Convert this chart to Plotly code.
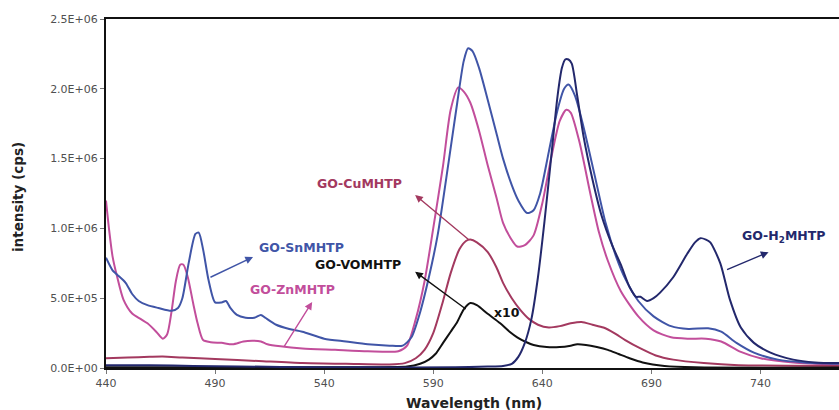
import plotly.graph_objects as go

# Emission spectra of the GO-porphyrin hybrids (intensity in units of 1E+06 cps)
SCALE = 1e6

sn_wl = [440, 443, 445, 449, 452, 455, 459, 464, 470, 473, 475, 478, 481, 482.5, 484.5, 487, 490, 493, 495,
         497, 500, 504, 508, 511, 513, 518, 524, 530, 540, 550, 560, 570, 576, 580, 584, 588, 592, 597, 601,
         604, 606, 608, 611, 615, 619, 622, 626, 629, 633, 636, 639, 643, 647, 650, 652, 655, 659, 664, 669,
         674, 678, 684, 691, 699, 707, 716, 722, 729, 737, 748, 760, 776]
sn_int = [0.79, 0.70, 0.67, 0.61, 0.53, 0.48, 0.45, 0.43, 0.41, 0.43, 0.50, 0.76, 0.96, 0.97, 0.85, 0.63, 0.47,
          0.47, 0.48, 0.43, 0.38, 0.36, 0.36, 0.38, 0.36, 0.31, 0.28, 0.26, 0.21, 0.19, 0.17, 0.16, 0.16, 0.22,
          0.40, 0.65, 0.95, 1.47, 1.90, 2.20, 2.29, 2.27, 2.15, 1.92, 1.68, 1.50, 1.31, 1.20, 1.11, 1.13, 1.25,
          1.55, 1.85, 2.00, 2.03, 1.95, 1.72, 1.38, 1.04, 0.79, 0.64, 0.48, 0.37, 0.30, 0.28, 0.285, 0.26, 0.18,
          0.11, 0.06, 0.04, 0.03]

zn_wl = [440, 441.5, 443, 445, 448, 452, 456, 459, 463, 466, 468, 470, 472, 474, 475.5, 477.5, 480, 482, 484.5,
         488, 493, 498, 503, 507, 511, 514, 520, 530, 545, 560, 574, 578, 582, 586, 590, 594.5, 598, 601.5, 604,
         607, 611, 615, 619, 622, 625.5, 628.5, 632, 636, 640, 644, 648, 651, 653, 657, 662, 666, 670, 676, 684,
         691, 699, 707, 715, 722, 731, 740, 755, 776]
zn_int = [1.20, 0.98, 0.80, 0.66, 0.49, 0.39, 0.35, 0.32, 0.26, 0.21, 0.24, 0.40, 0.62, 0.74, 0.74, 0.65, 0.46,
          0.32, 0.20, 0.185, 0.18, 0.17, 0.19, 0.195, 0.19, 0.17, 0.155, 0.14, 0.13, 0.12, 0.12, 0.16, 0.35,
          0.62, 1.00, 1.45, 1.85, 2.01, 1.98, 1.90, 1.70, 1.45, 1.22, 1.04, 0.93, 0.87, 0.88, 0.95, 1.18, 1.50,
          1.77, 1.85, 1.83, 1.62, 1.25, 0.97, 0.77, 0.55, 0.37, 0.27, 0.22, 0.21, 0.21, 0.19, 0.115, 0.07,
          0.04, 0.025]

cu_wl = [440, 450, 460, 466, 475, 490, 510, 530, 550, 570, 577, 582, 586, 590, 594.5, 598, 602, 605, 607, 610,
         615, 619, 622, 626, 630, 634, 638, 643, 648, 653, 658, 663, 668, 673, 678, 685, 692, 700, 714, 730, 776]
cu_int = [0.07, 0.075, 0.08, 0.082, 0.075, 0.065, 0.05, 0.035, 0.03, 0.025, 0.035, 0.07, 0.13, 0.25, 0.48,
          0.68, 0.85, 0.91, 0.92, 0.90, 0.83, 0.72, 0.61, 0.50, 0.415, 0.35, 0.31, 0.29, 0.30, 0.32, 0.33,
          0.31, 0.29, 0.25, 0.20, 0.14, 0.09, 0.06, 0.035, 0.02, 0.015]

vo_wl = [440, 560, 578, 584, 588, 591, 594.5, 598, 601, 604, 607, 610, 614.8, 620.7, 625, 628.5, 632, 636, 642,
         648, 653, 656, 660, 665, 670, 675, 680, 686, 696, 710, 776]
vo_int = [0.005, 0.005, 0.01, 0.03, 0.06, 0.10, 0.18, 0.26, 0.33, 0.42, 0.465, 0.45, 0.39, 0.32, 0.26, 0.22,
          0.19, 0.165, 0.15, 0.15, 0.16, 0.17, 0.165, 0.15, 0.13, 0.10, 0.07, 0.04, 0.015, 0.005, 0.003]

h2_wl = [440, 460, 480, 520, 560, 600, 615, 622, 626, 629, 632, 635, 638, 641, 644, 647, 649, 650.5, 652,
         653.5, 656, 659, 663, 667, 672, 676, 680, 683, 685, 688, 691, 694, 700, 706.5, 710, 712.5, 715, 717,
         721.6, 726, 731, 737, 744.6, 755, 765, 776]
h2_int = [0.02, 0.02, 0.015, 0.008, 0.005, 0.005, 0.01, 0.015, 0.03, 0.08, 0.18, 0.35, 0.65, 1.05, 1.50, 1.95,
          2.15, 2.21, 2.21, 2.18, 1.95, 1.65, 1.35, 1.10, 0.88, 0.74, 0.58, 0.51, 0.51, 0.48, 0.50, 0.54, 0.65,
          0.82, 0.90, 0.93, 0.92, 0.90, 0.75, 0.49, 0.29, 0.18, 0.11, 0.06, 0.04, 0.035]

y_ticks = [0, 0.5, 1.0, 1.5, 2.0, 2.5]
y_tick_text = ["0.0E+00", "5.0E+05", "1.0E+06", "1.5E+06", "2.0E+06", "2.5E+06"]
x_ticks = [440, 490, 540, 590, 640, 690, 740]

C_SN = "#4055a7"
C_ZN = "#c24e9b"
C_CU = "#a3395f"
C_VO = "#111111"
C_H2 = "#23286c"

series = [
    ("GO-ZnMHTP", zn_wl, zn_int, C_ZN),
    ("GO-SnMHTP", sn_wl, sn_int, C_SN),
    ("GO-CuMHTP", cu_wl, cu_int, C_CU),
    ("GO-VOMHTP", vo_wl, vo_int, C_VO),
    ("GO-H2MHTP", h2_wl, h2_int, C_H2),
]

fig = go.Figure()
for name, wl, inten, col in series:
    fig.add_trace(go.Scatter(
        x=wl, y=[v * SCALE for v in inten], name=name, mode="lines",
        line=dict(color=col, width=2, shape="spline", smoothing=0.7),
        showlegend=False, hoverinfo="skip"))

LABEL_FONT = "DejaVu Sans"

# (text, x, y, colour) for the curve labels; x/y are wavelength and intensity (1E+06 cps)
labels = [
    ("GO-SnMHTP", 509.3, 0.86, C_SN),
    ("GO-ZnMHTP", 505.1, 0.56, C_ZN),
    ("GO-VOMHTP", 535.0, 0.74, C_VO),
    ("GO-CuMHTP", 535.9, 1.325, C_CU),
    ("GO-H<sub>2</sub>MHTP", 730.8, 0.94, C_H2),
    ("x10", 617.0, 0.40, C_VO),
]
for text, lx, ly, col in labels:
    fig.add_annotation(x=lx, y=ly * SCALE, text=f"<b>{text}</b>", showarrow=False,
                       xanchor="left", yanchor="middle",
                       font=dict(family=LABEL_FONT, size=12.5, color=col))

# Pointer arrows: (head x, head y, tail x, tail y, colour)
arrows = [
    (507.4, 0.795, 487.2, 0.645, C_SN),
    (534.5, 0.473, 521.2, 0.143, C_ZN),
    (581.7, 0.69, 605.6, 0.415, C_VO),
    (581.7, 1.24, 607.0, 0.91, C_CU),
    (743.7, 0.83, 724.0, 0.70, C_H2),
]
for hx, hy, tx, ty, col in arrows:
    fig.add_annotation(x=hx, y=hy * SCALE, ax=tx, ay=ty * SCALE, axref="x", ayref="y",
                       xref="x", yref="y", text="", showarrow=True,
                       arrowhead=2, arrowsize=1.1, arrowwidth=1.4, arrowcolor=col)

# Axis titles
fig.add_annotation(x=0.502, y=-0.100, xref="paper", yref="paper", text="<b>Wavelength (nm)</b>",
                   showarrow=False, xanchor="center", yanchor="middle",
                   font=dict(family=LABEL_FONT, size=14, color="#222222"))
fig.add_annotation(x=-0.12, y=0.49, xref="paper", yref="paper", text="<b>intensity (cps)</b>",
                   showarrow=False, xanchor="center", yanchor="middle", textangle=-90,
                   font=dict(family=LABEL_FONT, size=13.5, color="#222222"))

fig.update_layout(
    width=839, height=410,
    margin=dict(l=106, r=0, t=19, b=42),
    paper_bgcolor="white", plot_bgcolor="white",
    font=dict(family=LABEL_FONT, size=11, color="#505050"),
    xaxis=dict(range=[440, 776], tickvals=x_ticks, showgrid=False, zeroline=False,
               showline=True, linecolor="#111111", linewidth=2, mirror=True,
               ticks="outside", ticklen=4, tickcolor="#777777",
               tickfont=dict(family=LABEL_FONT, size=11, color="#505050")),
    yaxis=dict(range=[0, 2.5 * SCALE], tickvals=[t * SCALE for t in y_ticks], ticktext=y_tick_text,
               showgrid=False, zeroline=False, showline=True, linecolor="#111111", linewidth=2,
               ticks="outside", ticklen=4, tickcolor="#777777",
               tickfont=dict(family=LABEL_FONT, size=11, color="#505050")),
)

fig.write_html("out.html")
